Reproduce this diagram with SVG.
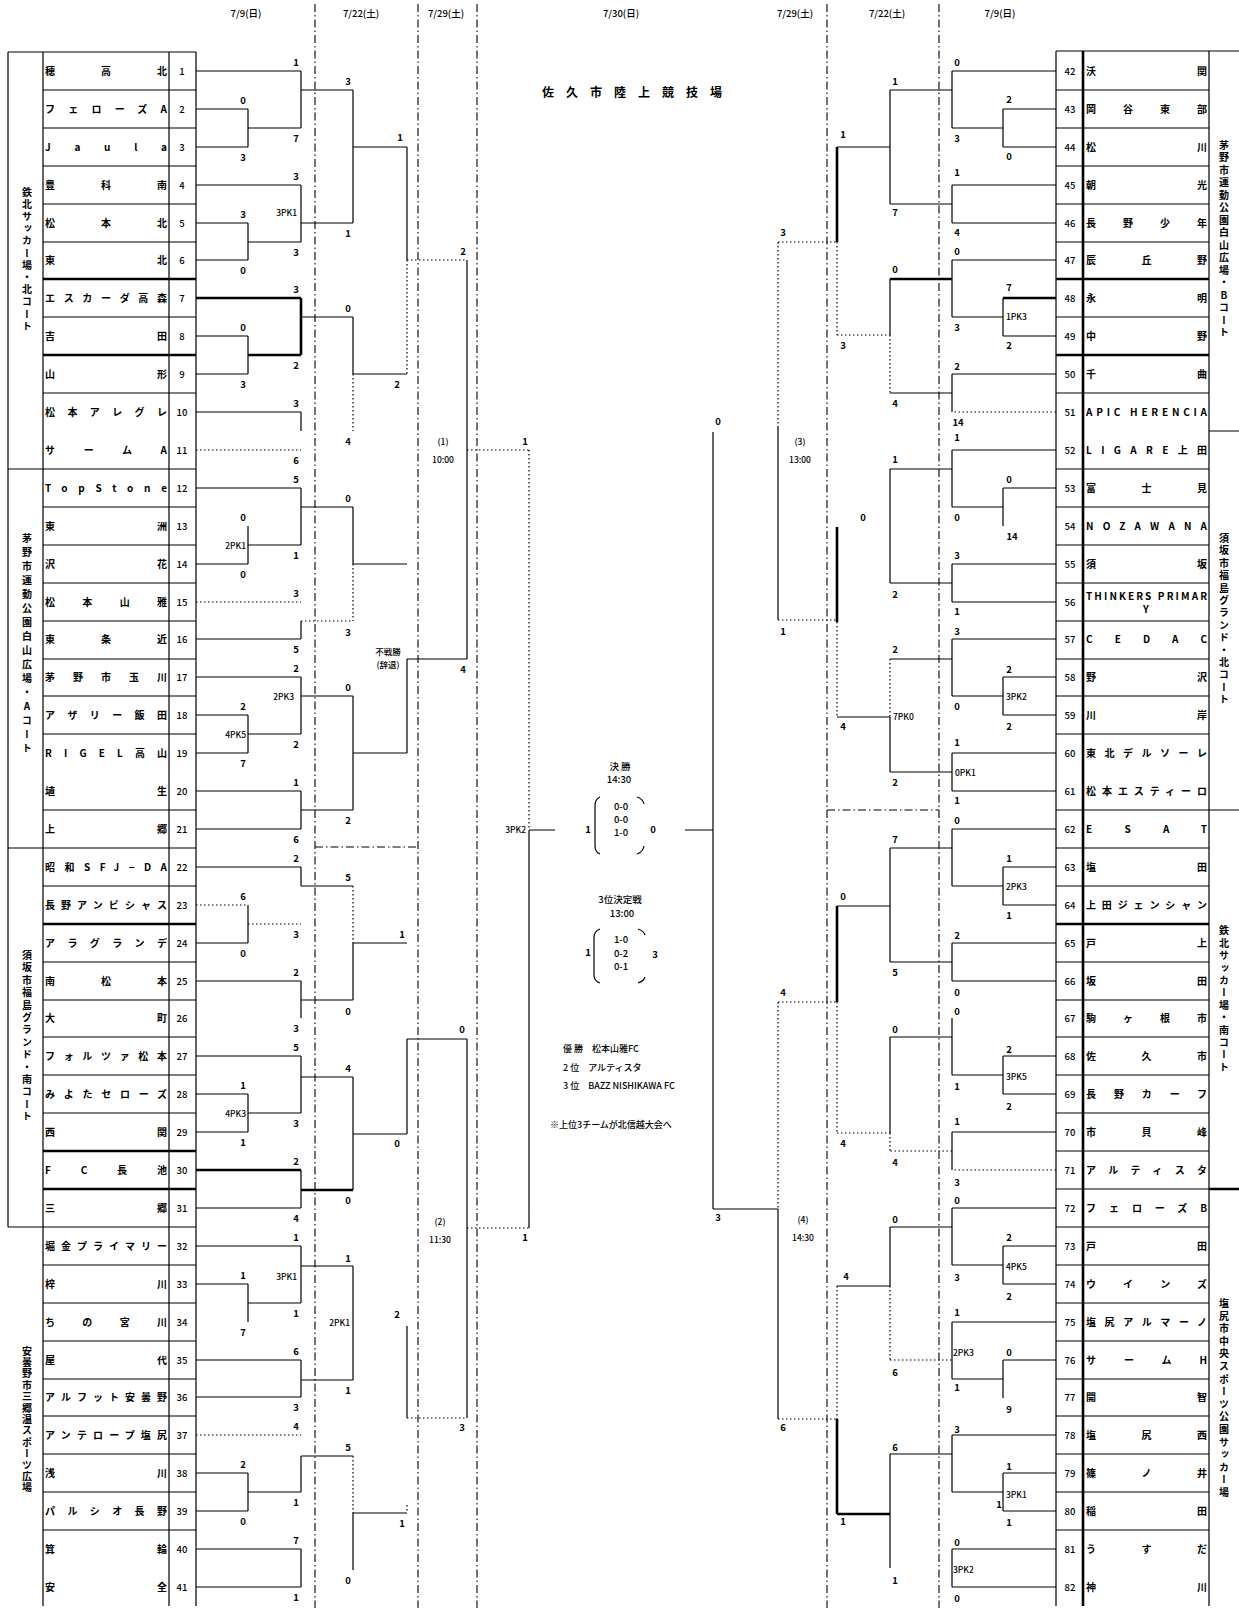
<svg xmlns="http://www.w3.org/2000/svg" width="1239" height="1608" viewBox="0 0 1239 1608">
<style>
.t{stroke:#000;stroke-width:1.2;fill:none}
.tk{stroke:#000;stroke-width:2.6;fill:none}
.l{stroke:#000;stroke-width:1.2;fill:none}
.d{stroke:#000;stroke-width:1.2;fill:none;stroke-dasharray:1.5 2.5}
.sep{stroke:#000;stroke-width:1.1;fill:none;stroke-dasharray:8 3 1.5 3}
text{font-family:"Noto Sans CJK JP","Noto Sans",sans-serif;fill:#000}
.nm{font-size:10px;font-weight:bold}
.no{font-size:9.5px;text-anchor:middle;font-weight:500}
.s{font-size:9.5px;text-anchor:middle;font-weight:bold}
.pk{font-size:8.5px;font-weight:500}
.pr{font-size:8.5px;text-anchor:end;font-weight:500}
.v{font-size:10px;font-weight:bold;writing-mode:vertical-rl;text-orientation:upright;text-anchor:middle}
.h{font-size:9.5px;text-anchor:middle;font-weight:500}
.c{font-size:9.5px;text-anchor:middle;font-weight:500}
</style>
<rect width="1239" height="1608" fill="#fff"/>
<g id="separators">
<path class="sep" d="M315 4V1608 M418 4V1608 M477 4V1608 M827 4V1608 M939 4V1608 M315 847H418 M827 810H939"/>
</g>
<g id="header">
<text class="h" x="246" y="17">7/9(日)</text>
<text class="h" x="361" y="17">7/22(土)</text>
<text class="h" x="446" y="17">7/29(土)</text>
<text class="h" x="621" y="17">7/30(日)</text>
<text class="h" x="795" y="17">7/29(土)</text>
<text class="h" x="887" y="17">7/22(土)</text>
<text class="h" x="1000" y="17">7/9(日)</text>
</g>
<g id="table-left">
<path class="t" d="M8 52H196 M8 52V1227 M43 52V1606 M169 52V1606 M196 52V1606 M8 469H196 M8 848H196 M8 1227H196"/>
<path class="t" d="M43 90H196 M43 128H196 M43 166H196 M43 204H196 M43 242H196 M43 317H196 M43 393H196 M43 507H196 M43 545H196 M43 583H196 M43 621H196 M43 659H196 M43 696H196 M43 734H196 M43 810H196 M43 886H196 M43 962H196 M43 1000H196 M43 1037H196 M43 1075H196 M43 1113H196 M43 1265H196 M43 1303H196 M43 1341H196 M43 1379H196 M43 1416H196 M43 1454H196 M43 1492H196 M43 1530H196"/>
<path class="tk" d="M43 279H196 M43 355H196 M43 924H196 M43 1151H196 M43 1189H196"/>
<text class="v" x="27" y="260" style="letter-spacing:2.2px">鉄北サッカー場・北コート</text>
<text class="v" x="27" y="645" style="letter-spacing:4px">茅野市運動公園白山広場・Aコート</text>
<text class="v" x="27" y="1037" style="letter-spacing:2.4px">須坂市福島グランド・南コート</text>
<text class="v" x="27" y="1420" style="letter-spacing:1.4px">安曇野市三郷温スポーツ広場</text>
</g>
<g id="teams-left">
<text class="nm" x="45" y="75" textLength="122">穂高北</text><text class="no" x="182" y="75">1</text>
<text class="nm" x="45" y="113" textLength="122">フェローズA</text><text class="no" x="182" y="113">2</text>
<text class="nm" x="45" y="151" textLength="122">Jaula</text><text class="no" x="182" y="151">3</text>
<text class="nm" x="45" y="189" textLength="122">豊科南</text><text class="no" x="182" y="189">4</text>
<text class="nm" x="45" y="227" textLength="122">松本北</text><text class="no" x="182" y="227">5</text>
<text class="nm" x="45" y="264" textLength="122">東北</text><text class="no" x="182" y="264">6</text>
<text class="nm" x="45" y="302" textLength="122">エスカーダ高森</text><text class="no" x="182" y="302">7</text>
<text class="nm" x="45" y="340" textLength="122">吉田</text><text class="no" x="182" y="340">8</text>
<text class="nm" x="45" y="378" textLength="122">山形</text><text class="no" x="182" y="378">9</text>
<text class="nm" x="45" y="416" textLength="122">松本アレグレ</text><text class="no" x="182" y="416">10</text>
<text class="nm" x="45" y="454" textLength="122">サームA</text><text class="no" x="182" y="454">11</text>
<text class="nm" x="45" y="492" textLength="122">TopStone</text><text class="no" x="182" y="492">12</text>
<text class="nm" x="45" y="530" textLength="122">東洲</text><text class="no" x="182" y="530">13</text>
<text class="nm" x="45" y="568" textLength="122">沢花</text><text class="no" x="182" y="568">14</text>
<text class="nm" x="45" y="606" textLength="122">松本山雅</text><text class="no" x="182" y="606">15</text>
<text class="nm" x="45" y="643" textLength="122">東条近</text><text class="no" x="182" y="643">16</text>
<text class="nm" x="45" y="681" textLength="122">茅野市玉川</text><text class="no" x="182" y="681">17</text>
<text class="nm" x="45" y="719" textLength="122">アザリー飯田</text><text class="no" x="182" y="719">18</text>
<text class="nm" x="45" y="757" textLength="122">RIGEL高山</text><text class="no" x="182" y="757">19</text>
<text class="nm" x="45" y="795" textLength="122">埴生</text><text class="no" x="182" y="795">20</text>
<text class="nm" x="45" y="833" textLength="122">上郷</text><text class="no" x="182" y="833">21</text>
<text class="nm" x="45" y="871" textLength="122">昭和SFJ−DA</text><text class="no" x="182" y="871">22</text>
<text class="nm" x="45" y="909" textLength="122">長野アンビシャス</text><text class="no" x="182" y="909">23</text>
<text class="nm" x="45" y="947" textLength="122">アラグランデ</text><text class="no" x="182" y="947">24</text>
<text class="nm" x="45" y="985" textLength="122">南松本</text><text class="no" x="182" y="985">25</text>
<text class="nm" x="45" y="1022" textLength="122">大町</text><text class="no" x="182" y="1022">26</text>
<text class="nm" x="45" y="1060" textLength="122">フォルツァ松本</text><text class="no" x="182" y="1060">27</text>
<text class="nm" x="45" y="1098" textLength="122">みよたセローズ</text><text class="no" x="182" y="1098">28</text>
<text class="nm" x="45" y="1136" textLength="122">西関</text><text class="no" x="182" y="1136">29</text>
<text class="nm" x="45" y="1174" textLength="122">FC長池</text><text class="no" x="182" y="1174">30</text>
<text class="nm" x="45" y="1212" textLength="122">三郷</text><text class="no" x="182" y="1212">31</text>
<text class="nm" x="45" y="1250" textLength="122">堀金プライマリー</text><text class="no" x="182" y="1250">32</text>
<text class="nm" x="45" y="1288" textLength="122">梓川</text><text class="no" x="182" y="1288">33</text>
<text class="nm" x="45" y="1326" textLength="122">ちの宮川</text><text class="no" x="182" y="1326">34</text>
<text class="nm" x="45" y="1364" textLength="122">屋代</text><text class="no" x="182" y="1364">35</text>
<text class="nm" x="45" y="1401" textLength="122">アルフット安曇野</text><text class="no" x="182" y="1401">36</text>
<text class="nm" x="45" y="1439" textLength="122">アンテロープ塩尻</text><text class="no" x="182" y="1439">37</text>
<text class="nm" x="45" y="1477" textLength="122">浅川</text><text class="no" x="182" y="1477">38</text>
<text class="nm" x="45" y="1515" textLength="122">パルシオ長野</text><text class="no" x="182" y="1515">39</text>
<text class="nm" x="45" y="1553" textLength="122">箕輪</text><text class="no" x="182" y="1553">40</text>
<text class="nm" x="45" y="1591" textLength="122">安全</text><text class="no" x="182" y="1591">41</text>
</g>
<g id="table-right">
<path class="t" d="M1056 51H1239 M1056 51V1606 M1209 51V1606 M1209 431H1239 M1056 810H1239 M1056 1189H1209"/>
<path class="t" d="M1056 90H1209 M1056 128H1209 M1056 166H1209 M1056 204H1209 M1056 242H1209 M1056 317H1209 M1056 393H1209 M1056 469H1209 M1056 507H1209 M1056 545H1209 M1056 583H1209 M1056 621H1209 M1056 659H1209 M1056 696H1209 M1056 734H1209 M1056 848H1209 M1056 886H1209 M1056 962H1209 M1056 1000H1209 M1056 1037H1209 M1056 1075H1209 M1056 1113H1209 M1056 1151H1209 M1056 1227H1209 M1056 1265H1209 M1056 1303H1209 M1056 1341H1209 M1056 1379H1209 M1056 1416H1209 M1056 1454H1209 M1056 1492H1209 M1056 1530H1209"/>
<path class="tk" d="M1083 51V1606 M1209 1189H1239 M1056 279H1209 M1056 355H1209 M1056 924H1209"/>
<text class="v" x="1224" y="240" style="letter-spacing:2.5px">茅野市運動公園白山広場・Bコート</text>
<text class="v" x="1224" y="620" style="letter-spacing:2.4px">須坂市福島グランド・北コート</text>
<text class="v" x="1224" y="1000" style="letter-spacing:2.4px">鉄北サッカー場・南コート</text>
<text class="v" x="1224" y="1399" style="letter-spacing:2.6px">塩尻市中央スポーツ公園サッカー場</text>
</g>
<g id="teams-right">
<text class="no" x="1070" y="75">42</text><text class="nm" x="1086" y="75" textLength="121">沃関</text>
<text class="no" x="1070" y="113">43</text><text class="nm" x="1086" y="113" textLength="121">岡谷東部</text>
<text class="no" x="1070" y="151">44</text><text class="nm" x="1086" y="151" textLength="121">松川</text>
<text class="no" x="1070" y="189">45</text><text class="nm" x="1086" y="189" textLength="121">朝光</text>
<text class="no" x="1070" y="227">46</text><text class="nm" x="1086" y="227" textLength="121">長野少年</text>
<text class="no" x="1070" y="264">47</text><text class="nm" x="1086" y="264" textLength="121">辰丘野</text>
<text class="no" x="1070" y="302">48</text><text class="nm" x="1086" y="302" textLength="121">永明</text>
<text class="no" x="1070" y="340">49</text><text class="nm" x="1086" y="340" textLength="121">中野</text>
<text class="no" x="1070" y="378">50</text><text class="nm" x="1086" y="378" textLength="121">千曲</text>
<text class="no" x="1070" y="416">51</text><text class="nm" x="1086" y="416" textLength="121">APIC HERENCIA</text>
<text class="no" x="1070" y="454">52</text><text class="nm" x="1086" y="454" textLength="121">LIGARE上田</text>
<text class="no" x="1070" y="492">53</text><text class="nm" x="1086" y="492" textLength="121">富士見</text>
<text class="no" x="1070" y="530">54</text><text class="nm" x="1086" y="530" textLength="121">NOZAWANA</text>
<text class="no" x="1070" y="568">55</text><text class="nm" x="1086" y="568" textLength="121">須坂</text>
<text class="no" x="1070" y="606">56</text><text class="nm" x="1086" y="600" textLength="121">THINKERS PRIMAR</text><text class="nm" x="1146" y="613" text-anchor="middle">Y</text>
<text class="no" x="1070" y="643">57</text><text class="nm" x="1086" y="643" textLength="121">CEDAC</text>
<text class="no" x="1070" y="681">58</text><text class="nm" x="1086" y="681" textLength="121">野沢</text>
<text class="no" x="1070" y="719">59</text><text class="nm" x="1086" y="719" textLength="121">川岸</text>
<text class="no" x="1070" y="757">60</text><text class="nm" x="1086" y="757" textLength="121">東北デルソーレ</text>
<text class="no" x="1070" y="795">61</text><text class="nm" x="1086" y="795" textLength="121">松本エスティーロ</text>
<text class="no" x="1070" y="833">62</text><text class="nm" x="1086" y="833" textLength="121">ESAT</text>
<text class="no" x="1070" y="871">63</text><text class="nm" x="1086" y="871" textLength="121">塩田</text>
<text class="no" x="1070" y="909">64</text><text class="nm" x="1086" y="909" textLength="121">上田ジェンシャン</text>
<text class="no" x="1070" y="947">65</text><text class="nm" x="1086" y="947" textLength="121">戸上</text>
<text class="no" x="1070" y="985">66</text><text class="nm" x="1086" y="985" textLength="121">坂田</text>
<text class="no" x="1070" y="1022">67</text><text class="nm" x="1086" y="1022" textLength="121">駒ヶ根市</text>
<text class="no" x="1070" y="1060">68</text><text class="nm" x="1086" y="1060" textLength="121">佐久市</text>
<text class="no" x="1070" y="1098">69</text><text class="nm" x="1086" y="1098" textLength="121">長野カーフ</text>
<text class="no" x="1070" y="1136">70</text><text class="nm" x="1086" y="1136" textLength="121">市貝峰</text>
<text class="no" x="1070" y="1174">71</text><text class="nm" x="1086" y="1174" textLength="121">アルティスタ</text>
<text class="no" x="1070" y="1212">72</text><text class="nm" x="1086" y="1212" textLength="121">フェローズB</text>
<text class="no" x="1070" y="1250">73</text><text class="nm" x="1086" y="1250" textLength="121">戸田</text>
<text class="no" x="1070" y="1288">74</text><text class="nm" x="1086" y="1288" textLength="121">ウインズ</text>
<text class="no" x="1070" y="1326">75</text><text class="nm" x="1086" y="1326" textLength="121">塩尻アルマーノ</text>
<text class="no" x="1070" y="1364">76</text><text class="nm" x="1086" y="1364" textLength="121">サームH</text>
<text class="no" x="1070" y="1401">77</text><text class="nm" x="1086" y="1401" textLength="121">開智</text>
<text class="no" x="1070" y="1439">78</text><text class="nm" x="1086" y="1439" textLength="121">塩尻西</text>
<text class="no" x="1070" y="1477">79</text><text class="nm" x="1086" y="1477" textLength="121">篠ノ井</text>
<text class="no" x="1070" y="1515">80</text><text class="nm" x="1086" y="1515" textLength="121">稲田</text>
<text class="no" x="1070" y="1553">81</text><text class="nm" x="1086" y="1553" textLength="121">うすだ</text>
<text class="no" x="1070" y="1591">82</text><text class="nm" x="1086" y="1591" textLength="121">神川</text>
</g>
<g id="connectors">
<path class="l" d="M196 71H301 M196 109H248 M196 147H248 M196 185H301 M196 223H248 M196 260H248 M196 336H248 M196 374H248 M196 412H301 M196 488H301 M196 564H248 M196 639H301 M196 677H301 M196 715H248 M196 753H248 M196 791H301 M196 829H301 M196 867H301 M196 943H248 M196 981H301 M196 1056H301 M196 1094H248 M196 1132H248 M196 1208H301 M196 1246H301 M196 1284H248 M196 1360H301 M196 1397H301 M196 1473H248 M196 1511H248 M196 1549H301 M196 1587H301"/>
<path class="l" d="M248 109V147 M248 128H301 M248 223V260 M248 242H301 M248 336V374 M248 526V564 M248 545H301 M248 715V753 M248 734H301 M248 905V943 M248 1094V1132 M248 1113H301 M248 1284V1322 M248 1303H301 M248 1473V1511 M248 1492H301"/>
<path class="l" d="M301 71V128 M301 90H353 M301 185V242 M301 223H353 M301 317H353 M301 412V431 M301 488V545 M301 507H353 M301 621V639 M301 677V734 M301 696H353 M301 791V829 M301 810H353 M301 867V886 M301 886H353 M301 981V1018 M301 1000H353 M301 1056V1113 M301 1077H353 M301 1170V1208 M301 1246V1303 M301 1266H353 M301 1360V1397 M301 1380H353 M301 1456V1492 M301 1456H353 M301 1549V1587"/>
<path class="l" d="M353 90V223 M353 147H407 M353 317V374 M353 374H407 M353 507V564 M353 564H407 M353 696V810 M353 753H407 M353 943V1000 M353 943H407 M353 1077V1190 M353 1134H407 M353 1266V1380 M353 1513V1570 M353 1513H407"/>
<path class="l" d="M407 147V260 M407 659V753 M407 659H467 M407 1039V1134 M407 1039H467 M407 1326V1418 M467 260V659 M467 1039V1418 M529 830V1228 M529 830H555 M713 432V1209 M685 830H713 M713 1209H778 M778 427V620 M778 1209V1419"/>
<path class="tk" d="M196 298H301 M248 355H301 M301 298V355 M196 1170H301 M301 1190H353"/>
<path class="d" d="M196 450H301 M353 374V431 M196 602H301 M301 621H353 M353 564V621 M196 905H248 M248 924H301 M353 886V943 M196 1435H301 M353 1456V1513 M407 260V374 M407 260H467 M407 1418H467 M407 1505V1513 M467 450H529 M529 450V830 M467 1228H529"/>
<path class="l" d="M1056 71H952 M1056 109H1003 M1056 147H1003 M1056 185H952 M1056 223H952 M1056 260H952 M1056 336H1003 M1056 374H952 M1056 450H952 M1056 488H1003 M1056 564H952 M1056 602H952 M1056 639H952 M1056 677H1003 M1056 715H1003 M1056 753H952 M1056 791H952 M1056 829H952 M1056 867H1003 M1056 905H1003 M1056 943H952 M1056 981H952 M1056 1056H1003 M1056 1094H1003 M1056 1132H952 M1056 1208H952 M1056 1246H1003 M1056 1284H1003 M1056 1322H952 M1056 1360H1003 M1056 1435H952 M1056 1473H1003 M1056 1511H1003 M1056 1549H952 M1056 1587H952"/>
<path class="l" d="M1003 109V147 M1003 128H952 M1003 298V336 M1003 317H952 M1003 488V526 M1003 507H952 M1003 677V715 M1003 696H952 M1003 867V905 M1003 886H952 M1003 1056V1094 M1003 1075H952 M1003 1246V1284 M1003 1265H952 M1003 1360V1398 M1003 1379H952 M1003 1473V1511 M1003 1492H952"/>
<path class="l" d="M952 71V128 M952 90H890 M952 185V223 M952 204H890 M952 260V317 M952 374V412 M952 393H890 M952 450V507 M952 469H890 M952 564V602 M952 583H890 M952 639V696 M952 659H890 M952 753V791 M952 772H890 M952 829V886 M952 848H890 M952 943V981 M952 962H890 M952 1018V1075 M952 1037H890 M952 1132V1170 M952 1208V1265 M952 1227H890 M952 1322V1379 M952 1435V1492 M952 1454H890 M952 1549V1587"/>
<path class="l" d="M890 90V204 M890 147H837 M890 279V335 M890 469V583 M890 717V772 M890 717H837 M890 848V962 M890 906H837 M890 1037V1133 M890 1227V1286 M890 1286H837 M890 1454V1568"/>
<path class="tk" d="M1056 298H1003 M952 279H890 M837 147V242 M837 527V622 M837 906V1002 M837 1419V1514 M837 1514H890"/>
<path class="d" d="M1056 412H952 M1056 1170H952 M890 335V393 M837 335H890 M890 659V717 M890 1133V1151 M837 1133H890 M890 1286V1360 M890 1360H952 M952 1151H890 M837 242V335 M837 622V717 M837 1002V1133 M837 1286V1419 M778 242V427 M778 1002V1209 M778 242H837 M778 620H837 M778 1002H837 M778 1419H837"/>
</g>
<g id="scores-left">
<text class="s" x="243" y="104">0</text><text class="s" x="243" y="161">3</text>
<text class="s" x="243" y="218">3</text><text class="s" x="243" y="274">0</text>
<text class="s" x="243" y="331">0</text><text class="s" x="243" y="388">3</text>
<text class="s" x="243" y="521">0</text><text class="s" x="243" y="578">0</text><text class="pr" x="246" y="549">2PK1</text>
<text class="s" x="243" y="710">2</text><text class="s" x="243" y="767">7</text><text class="pr" x="246" y="738">4PK5</text>
<text class="s" x="243" y="900">6</text><text class="s" x="243" y="957">0</text>
<text class="s" x="243" y="1089">1</text><text class="s" x="243" y="1146">1</text><text class="pr" x="246" y="1117">4PK3</text>
<text class="s" x="243" y="1279">1</text><text class="s" x="243" y="1336">7</text>
<text class="s" x="243" y="1468">2</text><text class="s" x="243" y="1525">0</text>
<text class="s" x="296" y="66">1</text><text class="s" x="296" y="142">7</text>
<text class="s" x="296" y="180">3</text><text class="s" x="296" y="256">3</text><text class="pr" x="297" y="216">3PK1</text>
<text class="s" x="296" y="293">3</text><text class="s" x="296" y="369">2</text>
<text class="s" x="296" y="407">3</text><text class="s" x="296" y="464">6</text>
<text class="s" x="296" y="483">5</text><text class="s" x="296" y="559">1</text>
<text class="s" x="296" y="597">3</text><text class="s" x="296" y="653">5</text>
<text class="s" x="296" y="672">2</text><text class="s" x="296" y="748">2</text><text class="pr" x="294" y="700">2PK3</text>
<text class="s" x="296" y="786">1</text><text class="s" x="296" y="843">6</text>
<text class="s" x="296" y="862">2</text><text class="s" x="296" y="938">3</text>
<text class="s" x="296" y="976">2</text><text class="s" x="296" y="1032">3</text>
<text class="s" x="296" y="1051">5</text><text class="s" x="296" y="1127">3</text>
<text class="s" x="296" y="1165">2</text><text class="s" x="296" y="1222">4</text>
<text class="s" x="296" y="1241">1</text><text class="s" x="296" y="1317">1</text><text class="pr" x="297" y="1280">3PK1</text>
<text class="s" x="296" y="1355">6</text><text class="s" x="296" y="1411">3</text>
<text class="s" x="296" y="1430">4</text><text class="s" x="296" y="1506">1</text>
<text class="s" x="296" y="1544">7</text><text class="s" x="296" y="1601">1</text>
<text class="s" x="348" y="85">3</text><text class="s" x="348" y="237">1</text>
<text class="s" x="348" y="312">0</text><text class="s" x="348" y="445">4</text>
<text class="s" x="348" y="502">0</text><text class="s" x="348" y="636">3</text>
<text class="s" x="348" y="691">0</text><text class="s" x="348" y="824">2</text>
<text class="s" x="348" y="881">5</text><text class="s" x="348" y="1015">0</text>
<text class="s" x="348" y="1072">4</text><text class="s" x="348" y="1204">0</text>
<text class="s" x="348" y="1262">1</text><text class="s" x="348" y="1394">1</text><text class="pr" x="350" y="1326">2PK1</text>
<text class="s" x="348" y="1451">5</text><text class="s" x="348" y="1584">0</text>
<text class="s" x="400" y="141">1</text><text class="s" x="397" y="388">2</text>
<text class="c" x="388" y="655" style="font-size:8.5px">不戦勝</text><text class="c" x="388" y="668" style="font-size:8.5px">(辞退)</text>
<text class="s" x="402" y="938">1</text><text class="s" x="397" y="1147">0</text>
<text class="s" x="397" y="1318">2</text><text class="s" x="402" y="1527">1</text>
<text class="s" x="463" y="255">2</text><text class="s" x="463" y="673">4</text>
<text class="s" x="462" y="1033">0</text><text class="s" x="462" y="1431">3</text>
<text class="c" x="443" y="445" style="font-size:8.5px">(1)</text><text class="c" x="443" y="463" style="font-size:8.5px">10:00</text>
<text class="c" x="440" y="1225" style="font-size:8.5px">(2)</text><text class="c" x="440" y="1243" style="font-size:8.5px">11:30</text>
<text class="s" x="525" y="445">1</text><text class="s" x="525" y="1241">1</text>
<text class="pr" x="526" y="833">3PK2</text>
</g>
<g id="scores-right">
<text class="s" x="718" y="425">0</text><text class="s" x="718" y="1221">3</text>
<text class="s" x="783" y="236">3</text><text class="s" x="783" y="635">1</text>
<text class="s" x="783" y="996">4</text><text class="s" x="783" y="1431">6</text>
<text class="c" x="800" y="445" style="font-size:8.5px">(3)</text><text class="c" x="800" y="463" style="font-size:8.5px">13:00</text>
<text class="c" x="803" y="1223" style="font-size:8.5px">(4)</text><text class="c" x="803" y="1241" style="font-size:8.5px">14:30</text>
<text class="s" x="843" y="138">1</text><text class="s" x="843" y="349">3</text>
<text class="s" x="863" y="521">0</text><text class="s" x="843" y="730">4</text>
<text class="s" x="843" y="900">0</text><text class="s" x="843" y="1147">4</text>
<text class="s" x="846" y="1280">4</text><text class="s" x="843" y="1525">1</text>
<text class="s" x="895" y="85">1</text><text class="s" x="895" y="216">7</text>
<text class="s" x="895" y="273">0</text><text class="s" x="895" y="407">4</text>
<text class="s" x="895" y="463">1</text><text class="s" x="895" y="598">2</text>
<text class="s" x="895" y="653">2</text><text class="s" x="895" y="786">2</text><text class="pk" x="893" y="720">7PK0</text>
<text class="s" x="895" y="843">7</text><text class="s" x="895" y="976">5</text>
<text class="s" x="895" y="1033">0</text><text class="s" x="895" y="1166">4</text>
<text class="s" x="895" y="1223">0</text><text class="s" x="895" y="1376">6</text>
<text class="s" x="895" y="1451">6</text><text class="s" x="895" y="1584">1</text>
<text class="s" x="957" y="66">0</text><text class="s" x="957" y="142">3</text>
<text class="s" x="957" y="176">1</text><text class="s" x="957" y="236">4</text>
<text class="s" x="957" y="255">0</text><text class="s" x="957" y="331">3</text>
<text class="s" x="957" y="370">2</text><text class="s" x="958" y="426">14</text>
<text class="s" x="957" y="441">1</text><text class="s" x="957" y="521">0</text>
<text class="s" x="957" y="559">3</text><text class="s" x="957" y="615">1</text>
<text class="s" x="957" y="635">3</text><text class="s" x="957" y="710">0</text>
<text class="s" x="957" y="746">1</text><text class="s" x="957" y="804">1</text><text class="pk" x="955" y="776">0PK1</text>
<text class="s" x="957" y="824">0</text>
<text class="s" x="957" y="939">2</text><text class="s" x="957" y="996">0</text>
<text class="s" x="957" y="1015">0</text><text class="s" x="957" y="1090">1</text>
<text class="s" x="957" y="1125">1</text><text class="s" x="957" y="1186">3</text>
<text class="s" x="957" y="1204">0</text><text class="s" x="957" y="1281">3</text>
<text class="s" x="957" y="1316">1</text><text class="s" x="957" y="1391">1</text><text class="pk" x="953" y="1356">2PK3</text>
<text class="s" x="957" y="1433">3</text>
<text class="s" x="957" y="1546">0</text><text class="s" x="957" y="1602">0</text><text class="pk" x="953" y="1573">3PK2</text>
<text class="s" x="1009" y="103">2</text><text class="s" x="1009" y="160">0</text>
<text class="s" x="1009" y="291">7</text><text class="s" x="1009" y="349">2</text><text class="pk" x="1006" y="320">1PK3</text>
<text class="s" x="1009" y="483">0</text><text class="s" x="1012" y="540">14</text>
<text class="s" x="1009" y="673">2</text><text class="s" x="1009" y="730">2</text><text class="pk" x="1006" y="700">3PK2</text>
<text class="s" x="1009" y="862">1</text><text class="s" x="1009" y="919">1</text><text class="pk" x="1006" y="890">2PK3</text>
<text class="s" x="1009" y="1053">2</text><text class="s" x="1009" y="1110">2</text><text class="pk" x="1006" y="1080">3PK5</text>
<text class="s" x="1009" y="1241">2</text><text class="s" x="1009" y="1300">2</text><text class="pk" x="1006" y="1270">4PK5</text>
<text class="s" x="1009" y="1356">0</text><text class="s" x="1009" y="1413">9</text>
<text class="s" x="1009" y="1470">1</text><text class="s" x="1009" y="1526">1</text><text class="pk" x="1006" y="1498">3PK1</text><text class="s" x="999" y="1508">1</text>
</g>
<g id="center">
<text x="542" y="97" textLength="180" style="font-size:12px;font-weight:bold">佐久市陸上競技場</text>
<text class="c" x="620" y="770">決 勝</text>
<text class="c" x="619" y="783">14:30</text>
<path class="l" d="M600 797Q595 799 595 806V846Q595 852 600 854 M637 797Q643 799 644 804 M644 846Q643 852 637 854"/>
<text class="c" x="621" y="810">0-0</text><text class="c" x="621" y="823">0-0</text><text class="c" x="621" y="836">1-0</text>
<text class="s" x="588" y="833">1</text><text class="s" x="653" y="833">0</text>
<text class="c" x="620" y="903">3位決定戦</text>
<text class="c" x="622" y="917">13:00</text>
<path class="l" d="M600 929Q594 931 594 938V975Q594 981 600 983 M638 929Q644 931 645 935 M645 977Q644 981 638 983"/>
<text class="c" x="621" y="943">1-0</text><text class="c" x="621" y="957">0-2</text><text class="c" x="621" y="970">0-1</text>
<text class="s" x="588" y="956">1</text><text class="s" x="655" y="958">3</text>
<text x="563" y="1052" style="font-size:9px;font-weight:500">優 勝　松本山雅FC</text>
<text x="563" y="1071" style="font-size:9px;font-weight:500">2 位　アルティスタ</text>
<text x="563" y="1089" style="font-size:9px;font-weight:500">3 位　BAZZ NISHIKAWA FC</text>
<text x="550" y="1128" style="font-size:9px;font-weight:500">※上位3チームが北信越大会へ</text>
</g>
</svg>
